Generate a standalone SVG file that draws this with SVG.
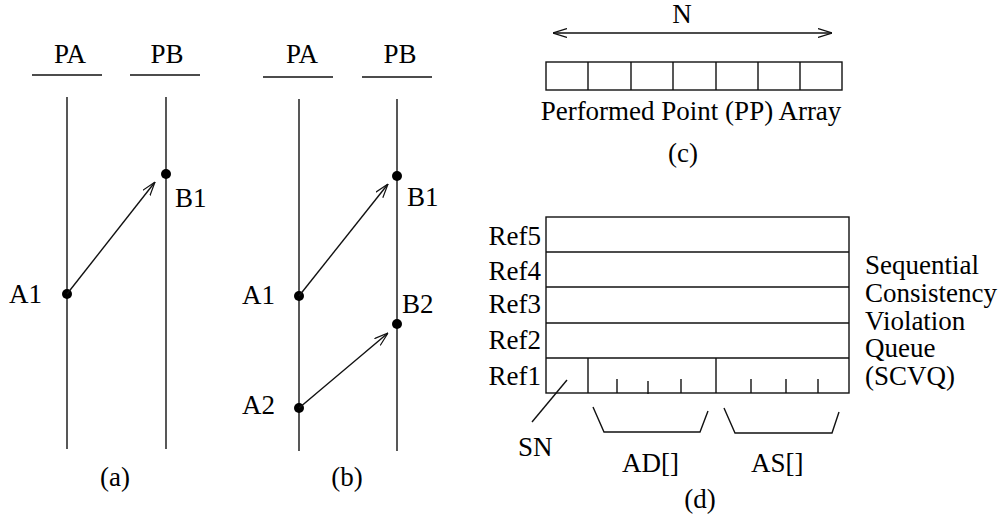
<svg xmlns="http://www.w3.org/2000/svg" width="1005" height="516" viewBox="0 0 1005 516">
<style>
text{font-family:'Liberation Serif','DejaVu Serif',serif;font-size:27px;fill:#000}
.m{text-anchor:middle}
.r{text-anchor:end}
.ln{stroke:#111;stroke-width:1.4;fill:none}
.dot{fill:#000}
</style>
<defs>
<marker id="ah" viewBox="0 0 14 10" refX="14" refY="5" markerWidth="14" markerHeight="10" markerUnits="userSpaceOnUse" orient="auto-start-reverse">
<path d="M0,0.5 L14,5 L0,9.5" fill="none" stroke="#111" stroke-width="1.2"/>
</marker>
</defs>
<rect width="1005" height="516" fill="#fff"/>
<g font-family="Liberation Serif, DejaVu Serif, serif">
<g id="diagram-a">
<text class="m" x="70" y="63">PA</text>
<text class="m" x="167" y="63">PB</text>
<line class="ln" x1="32" y1="75" x2="102" y2="75"/>
<line class="ln" x1="130" y1="75" x2="200" y2="75"/>
<line class="ln" x1="67" y1="97" x2="67" y2="449"/>
<line class="ln" x1="166" y1="97" x2="166" y2="449"/>
<circle class="dot" cx="67" cy="294" r="5"/>
<circle class="dot" cx="166" cy="174" r="5"/>
<text x="9" y="303">A1</text>
<text x="175" y="207">B1</text>
<text class="m" x="115" y="486">(a)</text>
</g>
<g id="diagram-b">
<text class="m" x="302" y="63">PA</text>
<text class="m" x="400" y="63">PB</text>
<line class="ln" x1="263" y1="77" x2="333" y2="77"/>
<line class="ln" x1="362" y1="77" x2="432" y2="77"/>
<line class="ln" x1="299" y1="99" x2="299" y2="451"/>
<line class="ln" x1="397" y1="99" x2="397" y2="451"/>
<circle class="dot" cx="299" cy="296" r="5"/>
<circle class="dot" cx="397" cy="176" r="5"/>
<circle class="dot" cx="397" cy="324" r="5"/>
<circle class="dot" cx="299" cy="408" r="5"/>
<text x="242" y="304">A1</text>
<text x="407" y="206">B1</text>
<text x="402" y="313">B2</text>
<text x="242" y="414">A2</text>
<text class="m" x="347" y="486">(b)</text>
</g>
<g id="diagram-c">
<text class="m" x="682" y="23">N</text>
<rect class="ln" x="546" y="62" width="296" height="28"/>
<line class="ln" x1="588" y1="62" x2="588" y2="90"/>
<line class="ln" x1="631" y1="62" x2="631" y2="90"/>
<line class="ln" x1="673" y1="62" x2="673" y2="90"/>
<line class="ln" x1="716" y1="62" x2="716" y2="90"/>
<line class="ln" x1="758" y1="62" x2="758" y2="90"/>
<line class="ln" x1="800" y1="62" x2="800" y2="90"/>
<text class="m" x="691" y="120">Performed Point (PP) Array</text>
<text class="m" x="683" y="162">(c)</text>
</g>
<g id="diagram-d">
<rect class="ln" x="546" y="217" width="303" height="176"/>
<line class="ln" x1="546" y1="252" x2="849" y2="252"/>
<line class="ln" x1="546" y1="287" x2="849" y2="287"/>
<line class="ln" x1="546" y1="323" x2="849" y2="323"/>
<line class="ln" x1="546" y1="358" x2="849" y2="358"/>
<line class="ln" x1="588" y1="358" x2="588" y2="393"/>
<line class="ln" x1="716" y1="358" x2="716" y2="393"/>
<line class="ln" x1="617" y1="379" x2="617" y2="393"/>
<line class="ln" x1="648" y1="381" x2="648" y2="394"/>
<line class="ln" x1="681" y1="379" x2="681" y2="393"/>
<line class="ln" x1="751" y1="379" x2="751" y2="393"/>
<line class="ln" x1="786" y1="379" x2="786" y2="393"/>
<line class="ln" x1="818" y1="379" x2="818" y2="393"/>
<text class="r" x="541" y="245">Ref5</text>
<text class="r" x="541" y="280">Ref4</text>
<text class="r" x="541" y="313">Ref3</text>
<text class="r" x="541" y="349">Ref2</text>
<text class="r" x="541" y="385">Ref1</text>
<text x="865" y="274">Sequential</text>
<text x="865" y="302">Consistency</text>
<text x="865" y="330">Violation</text>
<text x="865" y="357">Queue</text>
<text x="865" y="385">(SCVQ)</text>
<line class="ln" x1="567" y1="380" x2="532" y2="422"/>
<polyline class="ln" points="593,407 604,432 700,432 708,411"/>
<polyline class="ln" points="724,408 735,433 832,433 839,412"/>
<text x="518" y="456">SN</text>
<text x="622" y="472">AD[]</text>
<text x="751" y="472">AS[]</text>
<text class="m" x="700" y="508">(d)</text>
</g>
</g>
<g id="connectors">
<line class="ln" x1="67" y1="294" x2="155" y2="182" marker-end="url(#ah)"/>
<line class="ln" x1="299" y1="296" x2="388" y2="184" marker-end="url(#ah)"/>
<line class="ln" x1="299" y1="408" x2="388" y2="333" marker-end="url(#ah)"/>
<line class="ln" x1="553" y1="33" x2="832" y2="33" marker-start="url(#ah)" marker-end="url(#ah)"/>
</g>
</svg>
